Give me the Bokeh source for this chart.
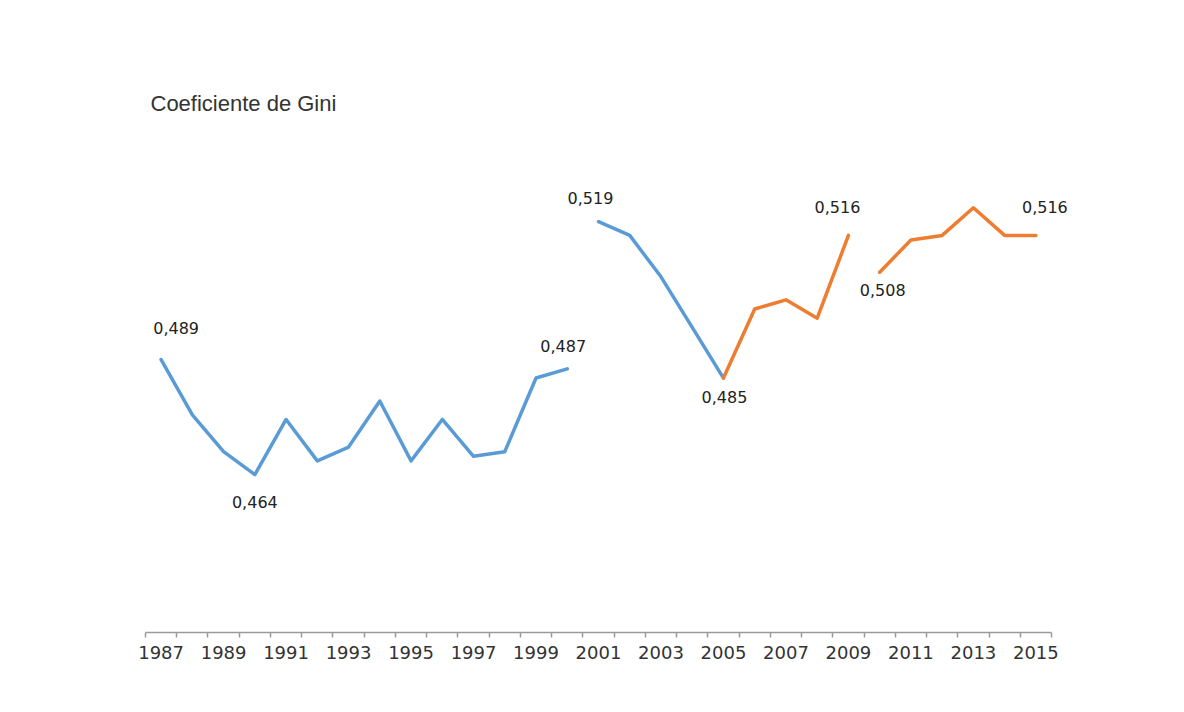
from bokeh.plotting import figure
from bokeh.models import Range1d, FixedTicker, ColumnDataSource, LabelSet
from bokeh.core.properties import value
from bokeh.embed import file_html
from bokeh.resources import INLINE

# ---- data ----
blue_years_1 = [1987, 1988, 1989, 1990, 1991, 1992, 1993, 1994, 1995, 1996, 1997, 1998, 1999, 2000]
blue_vals_1 = [0.489, 0.477, 0.469, 0.464, 0.476, 0.467, 0.470, 0.480, 0.467, 0.476, 0.468, 0.469, 0.485, 0.487]
blue_years_2 = [2001, 2002, 2003, 2004, 2005]
blue_vals_2 = [0.519, 0.516, 0.507, 0.496, 0.485]
orange_years_1 = [2005, 2006, 2007, 2008, 2009]
orange_vals_1 = [0.485, 0.500, 0.502, 0.498, 0.516]
orange_years_2 = [2010, 2011, 2012, 2013, 2014, 2015]
orange_vals_2 = [0.508, 0.515, 0.516, 0.522, 0.516, 0.516]
tick_years = list(range(1987, 2016, 2))
label_years = [1987, 1990, 2000, 2001, 2005, 2009, 2010, 2015]
title_text = "Coeficiente de Gini"

BLUE = "#5b9bd5"
ORANGE = "#ed7d31"

all_points = {}
for ys, vs in [(blue_years_1, blue_vals_1), (blue_years_2, blue_vals_2),
               (orange_years_1, orange_vals_1), (orange_years_2, orange_vals_2)]:
    for y, v in zip(ys, vs):
        all_points.setdefault(y, v)

W, H = 1168, 696
left, right_border = 145, 55
px_per_year = 906 / 29.0
frame_w = W - left - right_border
x_end = 1986.5 + frame_w / px_per_year

p = figure(width=W, height=H, output_backend="svg", toolbar_location=None,
           x_range=Range1d(1986.5, x_end), y_range=Range1d(0.4297, 0.5388),
           min_border_left=left, min_border_right=right_border, min_border_top=130,
           min_border_bottom=64)
p.outline_line_color = None
p.grid.visible = False
p.yaxis.visible = False
p.background_fill_color = "white"
p.border_fill_color = "white"

p.title.text = title_text
p.title.text_font = "Liberation Sans"
p.title.text_font_size = "22px"
p.title.text_font_style = "normal"
p.title.text_color = "#333333"
p.title.offset = 5
p.title.standoff = 30

for ys, vs, c in [(blue_years_1, blue_vals_1, BLUE), (blue_years_2, blue_vals_2, BLUE),
                  (orange_years_1, orange_vals_1, ORANGE), (orange_years_2, orange_vals_2, ORANGE)]:
    p.line(ys, vs, line_color=c, line_width=3.5, line_join="round", line_cap="round")

# data labels
dx = [15, 0, -4, -8, 1, -11, 3, 9]
dy = [-32, 27, -23, -24, 19, -28, 18, -28]
lab_vals = [all_points[y] for y in label_years]
src = ColumnDataSource(dict(x=label_years, y=lab_vals,
                            t=[f"{v:.3f}".replace(".", ",") for v in lab_vals],
                            dx=dx, dy=[-d for d in dy]))
labels = LabelSet(x="x", y="y", text="t", x_offset="dx", y_offset="dy", source=src,
                  text_align="center", text_baseline="middle",
                  text_font=value("DejaVu Sans"), text_font_size=value("16px"),
                  text_color=value("#222222"))
p.add_layout(labels)

ax = p.xaxis[0]
ax.bounds = (1986.5, 2015.5)
ax.ticker = FixedTicker(ticks=tick_years, minor_ticks=[y + 0.5 for y in range(1986, 2016)])
ax.major_tick_line_color = None
ax.major_tick_out = 5
ax.major_tick_in = 0
ax.minor_tick_line_color = "#9a9a9a"
ax.minor_tick_out = 5
ax.minor_tick_in = 0
ax.minor_tick_line_width = 1.5
ax.axis_line_color = "#9a9a9a"
ax.axis_line_width = 1.5
ax.major_label_text_font = "DejaVu Sans"
ax.major_label_text_font_size = "18px"
ax.major_label_text_color = "#333333"
ax.major_label_standoff = 8

open("out.html", "w").write(file_html(p, INLINE))
